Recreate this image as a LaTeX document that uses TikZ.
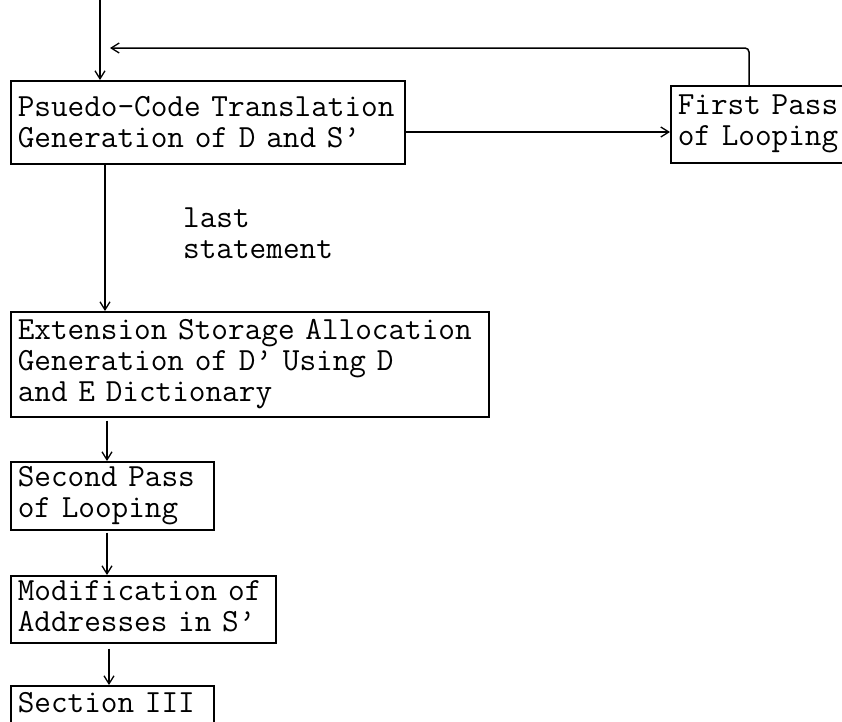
\documentclass[tikz,border=0pt]{standalone}
\usetikzlibrary{arrows.meta}
\tikzset{
  box/.style={draw, line width=1.5pt, anchor=north west, align=left,
    inner xsep=7pt, inner ysep=0pt,
    font=\fontsize{32.3}{31}\selectfont\ttfamily},
  lbl/.style={anchor=north west, align=left, inner sep=0pt,
    font=\fontsize{32.3}{31}\selectfont\ttfamily},
  arr/.style={line width=1.5pt, -{Straight Barb[length=8pt,width=10pt,line width=1.3pt]}},
  ln/.style={line width=1.5pt}
}
\begin{document}
\begin{tikzpicture}[x=1pt,y=-1pt]
\useasboundingbox (0,0) rectangle (842,721);
\clip (0,0) rectangle (842,721);
\fill[white] (0,0) rectangle (842,721);

\node[box, minimum width=392pt, minimum height=83pt, text width=380pt] (b1) at (10,80)
  {Psuedo-Code Translation\\Generation of D and S\textquoteright};
\node[box, minimum width=250pt, minimum height=77pt, text width=236pt] (b2) at (670,85)
  {First Pass\\of Looping};
\node[box, minimum width=478pt, minimum height=105pt, text width=464pt] (b3) at (10,311)
  {Extension Storage Allocation\\Generation of D\textquoteright{} Using D\\and E Dictionary};
\node[box, minimum width=203pt, minimum height=68pt, text width=189pt] (b4) at (10,461)
  {Second Pass\\of Looping};
\node[box, minimum width=265pt, minimum height=67pt, text width=251pt] (b5) at (10,575)
  {Modification of\\Addresses in S\textquoteright\vphantom{g}};
\node[box, minimum width=203pt, minimum height=40pt, text width=189pt, text depth=6pt] (b6) at (10,685)
  {Section III};

\node[lbl] (lab) at (183,208) {last\\statement};

\coordinate (top) at (100,0);
\coordinate (fbx) at (749,0);
\coordinate (fbend) at (110,48);
\coordinate (yh) at (0,132);
\coordinate (c1) at (105,0);
\coordinate (c2) at (107,0);
\coordinate (c3) at (109,0);

\draw[arr] (top) -- (top |- b1.north);
\draw[arr, rounded corners=4pt] (b2.north -| fbx) |- (fbend);
\draw[arr] (b1.east |- yh) -- (b2.west |- yh);
\draw[arr] (b1.south -| c1) -- (b3.north -| c1);
\draw[arr, shorten <=3pt] (b3.south -| c2) -- (b4.north -| c2);
\draw[arr, shorten <=2pt] (b4.south -| c2) -- (b5.north -| c2);
\draw[arr, shorten <=5pt] (b5.south -| c3) -- (b6.north -| c3);
\end{tikzpicture}
\end{document}
